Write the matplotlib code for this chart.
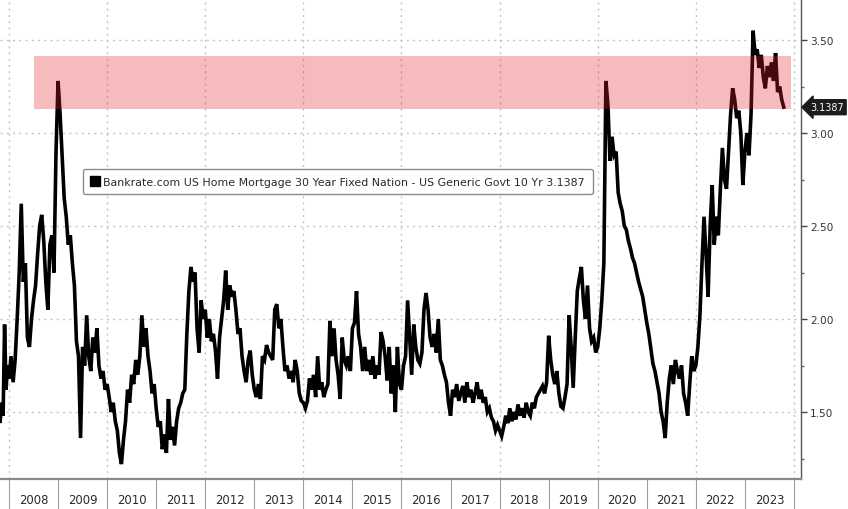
import numpy as np
import matplotlib
matplotlib.use("Agg")
import matplotlib.pyplot as plt
from matplotlib.lines import Line2D
from matplotlib.ticker import FixedLocator, NullFormatter, FixedFormatter

# ---------------- data (spread, %; semi-monthly readings) ----------------
pre_t = [2007.82, 2007.85, 2007.88, 2007.91, 2007.94, 2007.97]
pre_v = [1.45, 1.55, 1.48, 1.97, 1.62, 1.75]

s2008 = [1.68, 1.80, 1.66, 1.78, 2.00, 2.25, 2.62, 2.20, 2.30, 1.90, 1.85, 2.00,
         2.10, 2.18, 2.35, 2.50, 2.56, 2.42, 2.20, 2.05, 2.40, 2.45, 2.25, 2.90]
s2009 = [3.28, 3.10, 2.88, 2.65, 2.55, 2.40, 2.45, 2.30, 2.18, 1.88, 1.80, 1.36,
         1.85, 1.75, 2.02, 1.80, 1.72, 1.90, 1.82, 1.95, 1.75, 1.68, 1.72, 1.62]
s2010 = [1.65, 1.58, 1.50, 1.55, 1.45, 1.40, 1.28, 1.22, 1.35, 1.45, 1.62, 1.55,
         1.70, 1.65, 1.78, 1.70, 1.80, 2.02, 1.85, 1.95, 1.80, 1.72, 1.60, 1.65]
s2011 = [1.52, 1.42, 1.45, 1.30, 1.38, 1.28, 1.57, 1.35, 1.42, 1.32, 1.45, 1.52,
         1.55, 1.60, 1.62, 1.92, 2.15, 2.28, 2.20, 2.25, 1.95, 1.82, 2.10, 2.00]
s2012 = [2.05, 1.90, 2.00, 1.88, 1.92, 1.83, 1.68, 1.90, 2.00, 2.10, 2.26, 2.05,
         2.18, 2.12, 2.15, 2.05, 1.92, 1.95, 1.80, 1.72, 1.66, 1.78, 1.83, 1.70]
s2013 = [1.62, 1.58, 1.65, 1.57, 1.80, 1.78, 1.86, 1.82, 1.80, 1.78, 2.05, 2.08,
         1.95, 2.00, 1.85, 1.72, 1.75, 1.68, 1.72, 1.66, 1.78, 1.72, 1.60, 1.56]
s2014 = [1.55, 1.52, 1.56, 1.68, 1.62, 1.70, 1.58, 1.80, 1.62, 1.66, 1.58, 1.62,
         1.65, 1.99, 1.80, 1.95, 1.78, 1.70, 1.57, 1.90, 1.78, 1.75, 1.80, 1.72]
s2015 = [1.95, 1.98, 2.15, 1.92, 1.85, 1.72, 1.85, 1.72, 1.78, 1.70, 1.80, 1.68,
         1.75, 1.70, 1.93, 1.88, 1.80, 1.67, 1.85, 1.60, 1.75, 1.50, 1.85, 1.65]
s2016 = [1.62, 1.75, 1.80, 2.10, 1.90, 1.70, 1.97, 1.85, 1.78, 1.76, 1.82, 2.05,
         2.14, 2.05, 1.90, 1.85, 1.92, 1.82, 2.00, 1.78, 1.75, 1.70, 1.66, 1.55]
s2017 = [1.48, 1.62, 1.58, 1.65, 1.56, 1.60, 1.64, 1.55, 1.66, 1.58, 1.62, 1.55,
         1.60, 1.66, 1.57, 1.62, 1.55, 1.58, 1.50, 1.52, 1.47, 1.45, 1.40, 1.43]
s2018 = [1.40, 1.37, 1.42, 1.48, 1.44, 1.52, 1.45, 1.50, 1.46, 1.54, 1.48, 1.52,
         1.47, 1.55, 1.50, 1.48, 1.55, 1.52, 1.58, 1.60, 1.62, 1.64, 1.60, 1.66]
s2019 = [1.91, 1.78, 1.70, 1.65, 1.72, 1.60, 1.53, 1.52, 1.58, 1.65, 2.02, 1.85,
         1.63, 1.90, 2.15, 2.22, 2.28, 2.10, 2.00, 2.18, 1.95, 1.88, 1.90, 1.82]
s2020 = [1.85, 1.95, 2.10, 2.30, 3.28, 3.15, 2.85, 2.98, 2.88, 2.90, 2.68, 2.62,
         2.58, 2.50, 2.48, 2.42, 2.38, 2.33, 2.30, 2.25, 2.20, 2.16, 2.12, 2.05]
s2021 = [1.98, 1.92, 1.84, 1.76, 1.72, 1.66, 1.60, 1.50, 1.45, 1.36, 1.55, 1.68,
         1.75, 1.65, 1.78, 1.72, 1.68, 1.75, 1.60, 1.55, 1.48, 1.65, 1.80, 1.72]
s2022 = [1.75, 1.85, 2.02, 2.30, 2.55, 2.35, 2.12, 2.50, 2.72, 2.40, 2.55, 2.45,
         2.70, 2.92, 2.75, 2.70, 2.90, 3.10, 3.24, 3.18, 3.08, 3.12, 3.00, 2.72]
s2023 = [2.90, 3.00, 2.88, 3.10, 3.55, 3.42, 3.45, 3.35, 3.42, 3.30, 3.24, 3.36,
         3.30, 3.38, 3.28, 3.43, 3.22, 3.25, 3.18, 3.1387]

years = list(range(2008, 2024))
year_series = [s2008, s2009, s2010, s2011, s2012, s2013, s2014, s2015,
               s2016, s2017, s2018, s2019, s2020, s2021, s2022, s2023]
year_labels = [str(y) for y in years]

band_low, band_high = 3.129, 3.414
yticks = [1.50, 2.00, 2.50, 3.00, 3.50]
last_value = 3.1387
legend_label = ("Bankrate.com US Home Mortgage 30 Year Fixed Nation - "
                "US Generic Govt 10 Yr 3.1387")

# ---------------- build x/y ----------------
t = list(pre_t)
v = list(pre_v)
for y, s in zip(years, year_series):
    t += [y + i / 24 for i in range(len(s))]
    v += s
t = np.array(t)
v = np.array(v)

# ---------------- figure ----------------
W, H = 848, 510
fig = plt.figure(figsize=(W / 100, H / 100), dpi=100)
fig.patch.set_facecolor("white")
ax = fig.add_axes([0, 30 / H, 801 / W, 480 / H])
ax.set_facecolor("white")

xmin = 2008 - 9 / 49.06
xmax = 2008 + 792 / 49.06
ax.set_xlim(xmin, xmax)
ax.set_ylim(3.5 - 439 / 186, 3.5 + 41 / 186)

# grid
grid_kw = dict(color="#c4c4c4", lw=1.0, linestyle=(0, (1.5, 3)), zorder=0)
for gy in yticks:
    ax.axhline(gy, **grid_kw)
for gx in range(2008, 2025, 2):
    ax.axvline(gx, **grid_kw)

# line
ax.plot(t, v, color="black", lw=2.6, zorder=3, solid_joinstyle="miter")

# band (translucent, drawn above the line)
ax.axhspan(band_low, band_high, xmin=34 / 801, xmax=791 / 801,
           facecolor=(230 / 255, 30 / 255, 40 / 255), alpha=0.3,
           edgecolor="none", zorder=4)

# spines
ax.spines["left"].set_visible(False)
ax.spines["top"].set_visible(False)
ax.spines["right"].set_color("#555555")
ax.spines["right"].set_linewidth(1.0)
ax.spines["bottom"].set_color("#8a8a8a")
ax.spines["bottom"].set_linewidth(1.6)

# y axis on right
ax.yaxis.tick_right()
ax.set_yticks(yticks)
ax.set_yticklabels([f"{y:.2f}" for y in yticks])
ax.yaxis.set_minor_locator(FixedLocator([1.25, 1.75, 2.25, 2.75, 3.25]))
ax.tick_params(axis="y", which="major", direction="out", length=4, width=1,
               color="#444444", pad=2.5, labelsize=7.6, labelcolor="#333333")
ax.tick_params(axis="y", which="minor", direction="out", length=2.5, width=1,
               color="#666666")

# x axis: separators at year boundaries, labels at mid-year
ax.xaxis.set_major_locator(FixedLocator(list(range(2008, 2025))))
ax.xaxis.set_major_formatter(NullFormatter())
ax.xaxis.set_minor_locator(FixedLocator([y + 0.5 for y in years]))
ax.xaxis.set_minor_formatter(FixedFormatter(year_labels))
ax.tick_params(axis="x", which="major", direction="out", length=23, width=0.8,
               color="#a0a0a0")
ax.tick_params(axis="x", which="minor", length=0, pad=10, labelsize=8.4,
               labelcolor="#2a2a2a")
for lab in ax.xaxis.get_minorticklabels():
    lab.set_family(["Liberation Sans Narrow", "DejaVu Sans"])

# legend
handle = Line2D([], [], marker="s", color="black", markersize=7.5,
                linestyle="none")
leg = ax.legend([handle], [legend_label], loc="upper left",
                bbox_to_anchor=(83 / 801, 310 / 480), borderaxespad=0,
                frameon=True, fancybox=True, edgecolor="#8c8c8c",
                facecolor="white", framealpha=1, handlelength=0.7,
                handletextpad=0.45, borderpad=0.7, fontsize=7.9)
leg.get_frame().set_linewidth(1.0)
for txt in leg.get_texts():
    txt.set_color("#2a2a2a")
leg.set_zorder(6)

# last value tag
ax.annotate(f"{last_value:.4f}", xy=(1, last_value),
            xycoords=("axes fraction", "data"), xytext=(6.5, 0),
            textcoords="offset points", ha="left", va="center",
            color="white", fontsize=6.9, annotation_clip=False,
            bbox=dict(boxstyle="larrow,pad=0.26", fc="#1c1c1c", ec="#1c1c1c"))

fig.savefig("out.png", dpi=100)
